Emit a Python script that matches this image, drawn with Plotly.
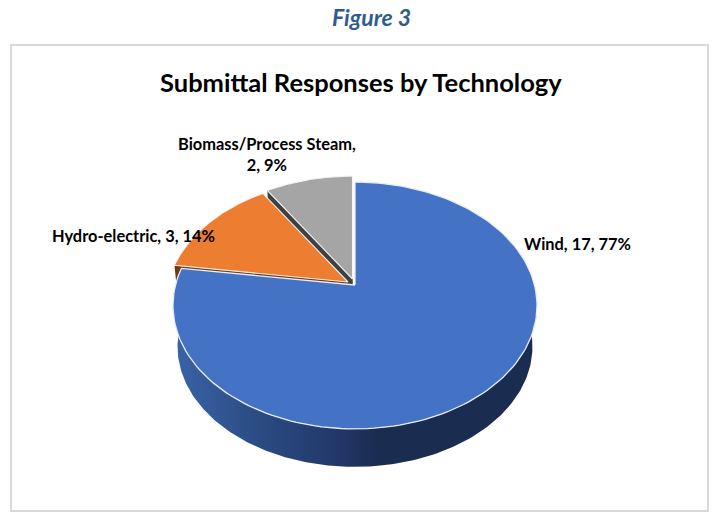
import numpy as np
import plotly.graph_objects as go

# Data
categories = ["Wind", "Hydro-electric", "Biomass/Process Steam"]
values = [17, 3, 2]
percent_labels = ["77%", "14%", "9%"]
top_colors = ["#4472C4", "#ED7D31", "#A5A5A5"]
edge_colors = ["#1A2C50", "#6E3A14", "#404040"]
side_gradient = [[0, "#3A64A8"], [0.25, "#2A4A80"], [0.45, "#22386A"], [0.56, "#1A2C50"], [1, "#1A2C50"]]
chart_title = "Submittal Responses by Technology"
figure_label = "Figure 3"

# Picture geometry of the tilted disc (axes run in page pixels)
W, H = 712, 512
APEX = (355.0, 285.0)
S, T, K = 179.5, 120.0, 0.166      # perspective projection of the unit circle
DEPTH, BASE_SCALE = 41.6, 0.975    # the lower rim
OFFSETS = [(0.0, 0.0), (-7.0, -3.0), (-2.5, -6.0)]  # exploded slices
FONT = "Lato"


def project(ang, r=1.0, lower=False):
    x = r * np.sin(ang)
    y = r * np.cos(ang)
    w = 1 + K * y
    px, py = S * x / w, -T * y / w
    if lower:
        return px * BASE_SCALE, py * BASE_SCALE + DEPTH
    return px, py


def wedge(a0, a1, offset, lower=False):
    ang = np.linspace(a0, a1, 160)
    px, py = project(ang, lower=lower)
    ax, ay = project(0.0, r=0.0, lower=lower)
    xs = np.concatenate([[ax], px, [ax]]) + APEX[0] + offset[0]
    ys = np.concatenate([[ay], py, [ay]]) + APEX[1] + offset[1]
    return xs, ys


def cut_face(a, offset):
    """Flat inner wall of a slice along the radius at angle a."""
    tx, ty = project(a)
    bx, by = project(a, lower=True)
    ax0, ay0 = project(0.0, r=0.0)
    ax1, ay1 = project(0.0, r=0.0, lower=True)
    xs = np.array([ax0, tx, bx, ax1, ax0]) + APEX[0] + offset[0]
    ys = np.array([ay0, ty, by, ay1, ay0]) + APEX[1] + offset[1]
    return xs, ys


def poly(xs, ys, fill, line=None, width=0, **kw):
    return go.Scatter(
        x=xs, y=ys, mode="lines", fill="toself", fillcolor=fill,
        line=dict(color=line or "rgba(0,0,0,0)", width=width),
        hoverinfo="skip", showlegend=False, **kw,
    )


fractions = np.array(values) / sum(values)
edges = np.concatenate([[0], np.cumsum(fractions)]) * 2 * np.pi

fig = go.Figure()

# Paint from back to front: grey, orange, then the big blue slice
for i in (2, 1):
    xs, ys = wedge(edges[i], edges[i + 1], OFFSETS[i], lower=True)
    fig.add_trace(poly(xs, ys, edge_colors[i]))
    xs, ys = cut_face(edges[i], OFFSETS[i])
    fig.add_trace(poly(xs, ys, edge_colors[i]))
    xs, ys = wedge(edges[i], edges[i + 1], OFFSETS[i])
    fig.add_trace(poly(xs, ys, top_colors[i], "#F2F2F2", 1.1))

# Blue side wall with a horizontal gradient
front = np.linspace(np.pi / 2 + 0.05, 3 * np.pi / 2 - 0.05, 200)
tx, ty = project(front)
bx, by = project(front, lower=True)
side_x = np.concatenate([tx, bx[::-1], tx[:1]]) + APEX[0]
side_y = np.concatenate([ty, by[::-1], ty[:1]]) + APEX[1]
fig.add_trace(go.Scatter(
    x=side_x, y=side_y, mode="lines", fill="toself",
    fillgradient=dict(type="horizontal", colorscale=side_gradient),
    line=dict(color="rgba(0,0,0,0)", width=0), hoverinfo="skip", showlegend=False,
))
xs, ys = wedge(edges[0], edges[1], OFFSETS[0])
fig.add_trace(poly(xs, ys, top_colors[0], "#E8EDF6", 1.3))

annotations = [
    dict(x=371.5, y=17, text=f"<b><i>{figure_label}</i></b>", font=dict(size=23, color="#2F5C8F", family=FONT)),
    dict(x=361, y=82, text=f"<b>{chart_title}</b>", font=dict(size=25.5, color="#000000", family=FONT)),
]
label_text = [f"{c}, {v}, {p}" for c, v, p in zip(categories, values, percent_labels)]
label_text[2] = f"{categories[2]},<br>{values[2]}, {percent_labels[2]}"
label_pos = [(577, 243), (133, 235), (267, 154)]
for t, (lx, ly) in zip(label_text, label_pos):
    annotations.append(dict(x=lx, y=ly, text=f"<b>{t}</b>", font=dict(size=16.4, color="#000000", family=FONT)))

for a in annotations:
    a.update(xref="x", yref="y", showarrow=False, xanchor="center", yanchor="middle")

fig.update_layout(
    width=W, height=H, margin=dict(l=0, r=0, t=0, b=0),
    paper_bgcolor="white", plot_bgcolor="white",
    xaxis=dict(range=[0, W], visible=False, fixedrange=True),
    yaxis=dict(range=[H, 0], visible=False, fixedrange=True),
    annotations=annotations,
    shapes=[dict(type="rect", xref="x", yref="y", x0=11, y0=45, x1=708, y1=511,
                 line=dict(color="#D9D9D9", width=2), layer="below")],
)

fig.write_html("out.html", config={"displayModeBar": False},
               post_script="document.body.style.margin='0';document.body.style.overflow='hidden';")
